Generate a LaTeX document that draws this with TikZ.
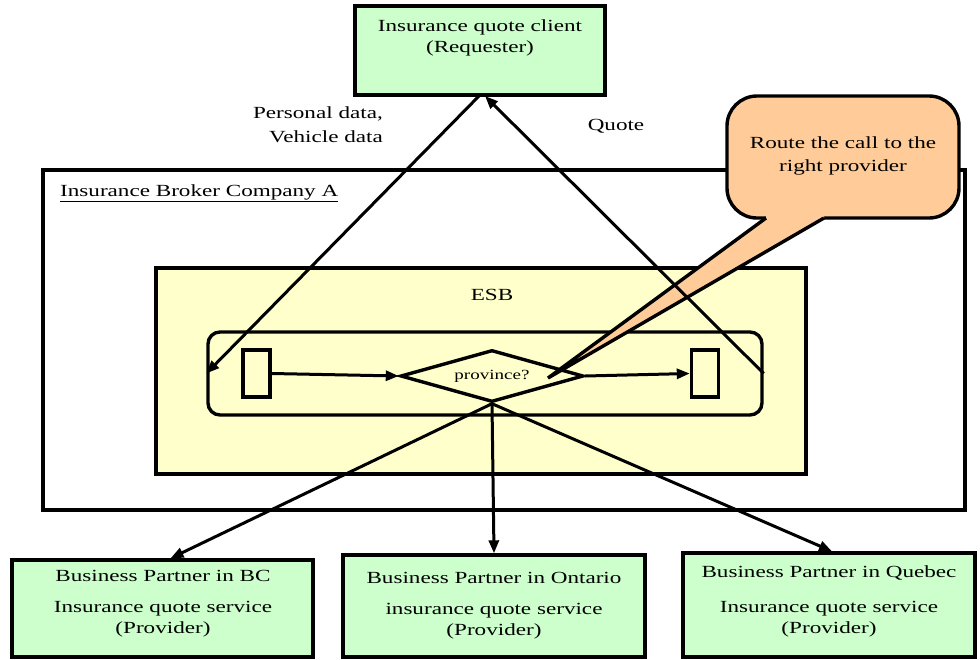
\documentclass[tikz,border=0pt]{standalone}
\usepackage{fontspec}
\setmainfont{Liberation Serif}[FakeStretch=1.36]
\usetikzlibrary{arrows.meta,shapes.geometric}
\definecolor{boxgreen}{RGB}{204,255,204}
\definecolor{esbyellow}{RGB}{255,255,204}
\definecolor{peach}{RGB}{255,204,153}
\begin{document}
\begin{tikzpicture}[x=1pt,y=-1pt,
  rect/.style={draw=black, line width=3.4pt, inner sep=0pt},
  greenbox/.style={rect, fill=boxgreen},
  lbl/.style={font=\fontsize{17}{21}\selectfont, align=center, inner sep=0pt},
  arr/.style={line width=3pt, -{Triangle[length=13pt,width=10pt]}}]
\useasboundingbox (0,0) rectangle (980,659);

% broker company
\node[rect, fill=white, minimum width=922pt, minimum height=340pt] (broker) at (504,340) {};
\node[lbl, anchor=west] (brokerlbl) at (60,193) {\underline{Insurance Broker Company A}};

% ESB
\node[rect, fill=esbyellow, minimum width=650pt, minimum height=206pt] (esb) at (481,371) {};
\node[lbl] (esblbl) at (492,295) {ESB};

% flow
\node[rect, rounded corners=12pt, minimum width=554pt, minimum height=83pt] (flow) at (485,373.5) {};
\node[rect, minimum width=27pt, minimum height=47pt] (inbox) at (256.5,373.5) {};
\node[rect, minimum width=27pt, minimum height=47pt] (outbox) at (705,373.5) {};
\node[rect, diamond, shape aspect=3.5, minimum width=183pt, minimum height=52pt,
      font=\fontsize{14}{16}\selectfont] (route) at (492,376) {province?};

% requester
\node[greenbox, minimum width=250pt, minimum height=89pt] (client) at (480,50.5) {};
\node[lbl] (clientlbl) at (480,38) {Insurance quote client\\(Requester)};
\coordinate (cl1) at (479,96);
\coordinate (cl2) at (485,96);

\node[lbl, align=right, anchor=east, font=\fontsize{17}{24}\selectfont] (datalbl) at (383,125) {Personal data,\\Vehicle data};
\node[lbl] (quotelbl) at (616,126) {Quote};

% callout
\coordinate (tip) at (548,378);
\coordinate (pl) at (766,218);
\coordinate (pr) at (824,218);
\draw[line width=3.4pt, fill=peach, rounded corners=30pt] (727,96) rectangle (959,218);
\fill[peach] (tip) -- (pr) -- ([yshift=3pt]pr) -- ([yshift=3pt]pl) -- (pl) -- cycle;
\draw[line width=3.4pt, line join=miter] (pl) -- (tip) -- (pr);
\node[lbl, font=\fontsize{17}{23}\selectfont] (calloutlbl) at (843,156) {Route the call to the\\right provider};

% providers
\node[greenbox, minimum width=301pt, minimum height=97pt] (bc) at (162.5,608.5) {};
\node[lbl] (bclbl) at (163,603.5) {Business Partner in BC\\[10pt]Insurance quote service\\(Provider)};
\node[greenbox, minimum width=302pt, minimum height=102pt] (on) at (494,606) {};
\node[lbl] (onlbl) at (494,605.5) {Business Partner in Ontario\\[10pt]insurance quote service\\(Provider)};
\node[greenbox, minimum width=292pt, minimum height=104pt] (qc) at (829,605) {};
\node[lbl] (qclbl) at (829,601) {Business Partner in Quebec\\[14pt]Insurance quote service\\(Provider)};

% connectors
\draw[arr] (cl1) -- (flow.west);
\draw[arr] (flow.east) -- (cl2);
\draw[arr] (inbox.east) -- (route.west);
\draw[arr] (route.east) -- (outbox.west);
\draw[arr] (route.south) -- ([xshift=8pt]bc.north);
\draw[arr] (route.south) -- (on.north);
\draw[arr] (route.south) -- ([xshift=3pt]qc.north);
\end{tikzpicture}
\end{document}
